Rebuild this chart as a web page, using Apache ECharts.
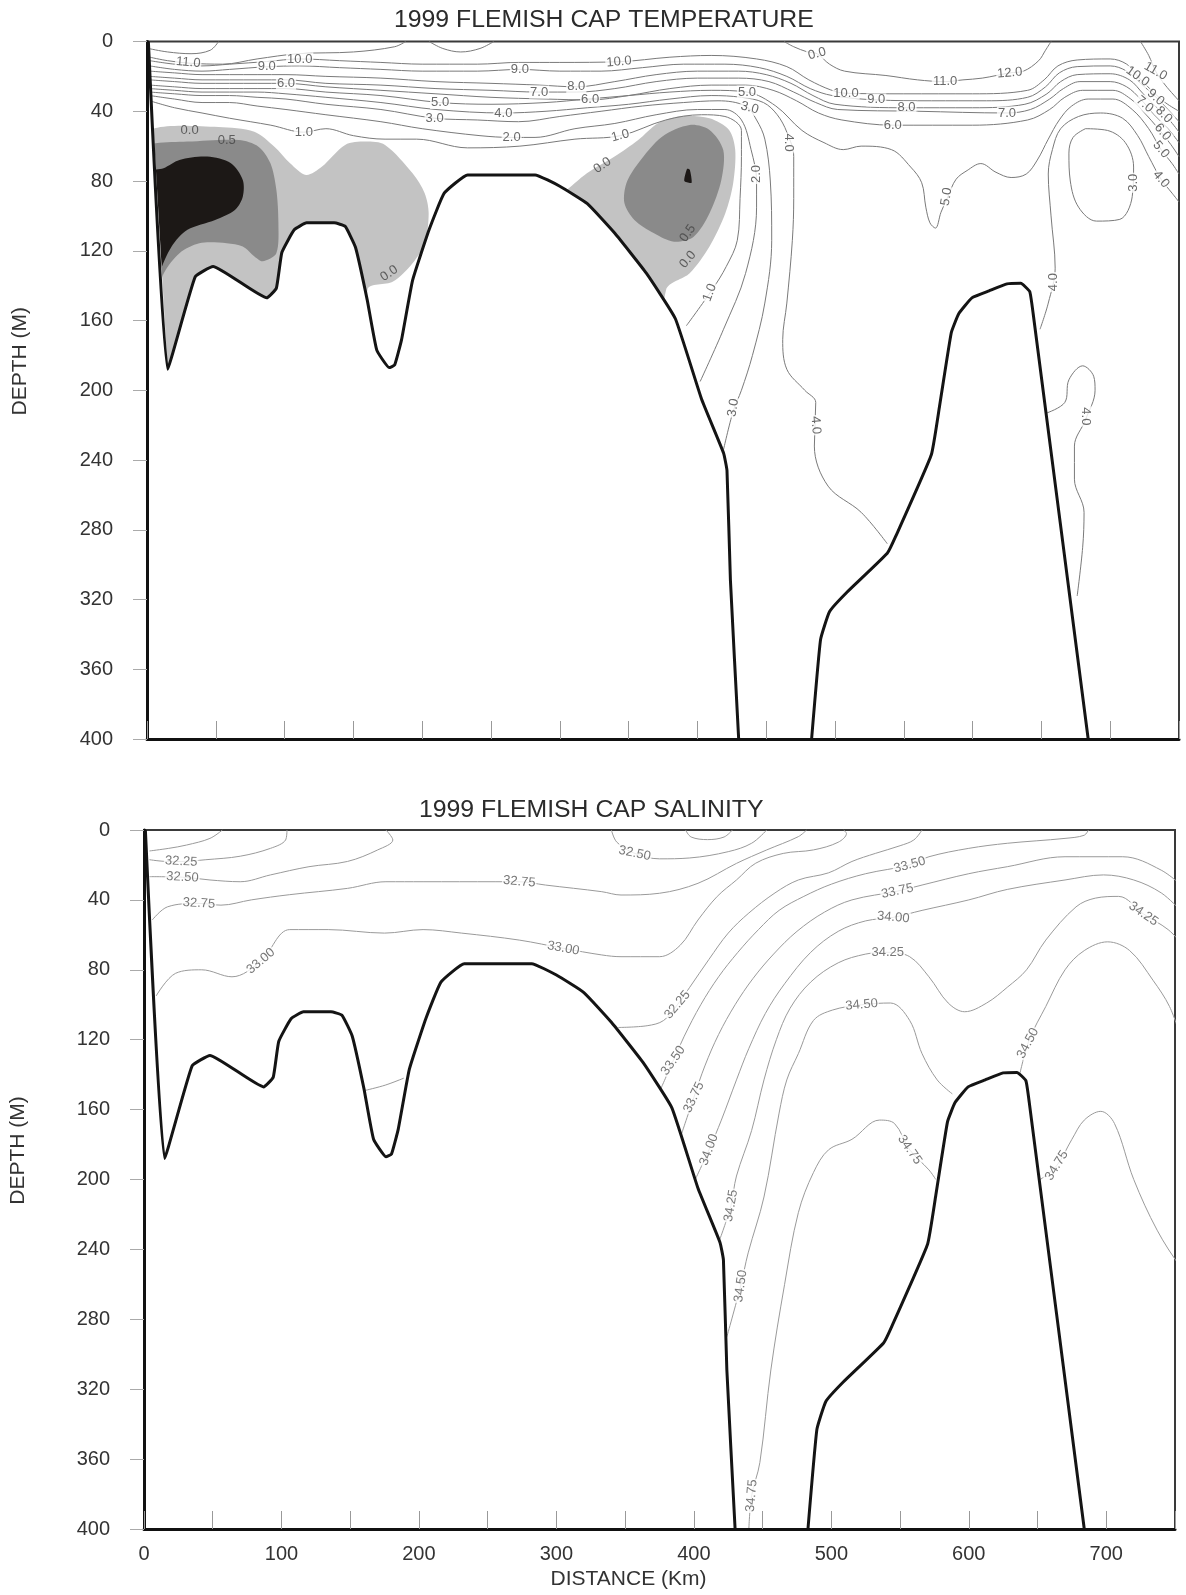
<!DOCTYPE html>
<html>
<head>
<meta charset="utf-8">
<title>1999 Flemish Cap sections</title>
<script src="https://cdn.jsdelivr.net/npm/echarts@6/dist/echarts.min.js"></script>
<style>
  html, body { margin: 0; padding: 0; background: #fff; }
  #chart { width: 1186px; height: 1595px; }
</style>
</head>
<body>
<div id="chart"></div>
<script>
// all points are [distance km, depth m]

// bottom profile
const bankWest = [[1,0],[15,188],[35,135],[48,129],[87,147],[94,141.5],[98,121],[107,108],[116,104],[136,104],[144,106],[151.5,118],[160,148],[167,177],[176,187],[180,185.5],[185,171],[193,137],[205,108],[216,87],[233,76.5],[282,76.5],[300,83],[320,93],[340,110],[363,133],[384,159],[403,205],[419,236],[421.5,246],[424,309],[430,400]];
const bankEast = [[483,400],[489.5,343],[496,327],[508.5,316],[538,293.5],[544,284],[570,237],[576,209],[584.5,167],[590,156],[599.5,147],[612,143],[625,139],[635,138.7],[641.5,143.4],[644,156],[684,400]];

// temperature: shaded cold cores
const coldWestLight = [[5.5,49.8],[52,49],[78,51.7],[92.6,60.3],[104,69.8],[115.6,76.5],[127,71.8],[144,59.3],[158.7,57.4],[173,59.3],[193,75.6],[201.8,87],[204.7,98.5],[201.8,115.7],[193,127.2],[178.8,137.7],[160.2,142.5],[160,250],[6,250],[2,60]];
const coldWestMid = [[6.4,58.4],[29.4,57.4],[66.8,56.5],[81,60.3],[89.7,69.8],[94,85],[95.5,104],[94,121.4],[84,126],[78.3,123.4],[69.6,117.6],[58,115.7],[38,115.7],[23.6,121.4],[12.2,132.9],[7.8,144.4],[3,144],[3,60]];
const coldWestDark = [[12,72.7],[23.6,67.9],[43.8,66],[61,69.8],[69.6,79.4],[69.6,89],[63.9,96.6],[49.5,102.3],[29.4,108],[17.9,117.6],[9.3,132.9],[7.8,144.4],[3,144],[3,75]];
const coldEastLight = [[302.4,87],[319.7,75.6],[339.8,66],[357,56.5],[371.4,46.9],[388.6,42.7],[408.8,44],[423,50.7],[427.5,62.2],[426,81.3],[420.3,98.5],[408.8,117.6],[394.4,132.9],[377.2,142.5],[360,250],[300,250],[300,88]];
const coldEastMid = [[348.4,81.3],[357,69.8],[374.3,54.6],[394.4,47.9],[408.8,50.7],[418.8,62.2],[417.4,79.4],[408.8,98.5],[397.3,111.9],[383,114.8],[368.5,110],[354.2,102.3],[347,92.8]];
const coldEastDark = [[390.5,80],[392.5,73],[394.5,73.5],[395.8,81]];

// temperature isotherms
const t12a = [[1,4],[15,6],[32,7],[46,5],[52,0]];
const t11a = [[2,9],[15,11],[32,12.5],[55,13],[80,10],[110,7],[150,6],[180,3],[188,0]];
const t11b = [[205,0],[215,4],[228,6],[242,4],[252,0]];
const t11c = [[463,0],[470,3],[480,6],[487,7],[496,13],[507,17],[537,19.5],[560,22],[580,23],[593,22],[607,21],[627,18],[637,17],[648,11],[653,5],[657,0]];
const t11d = [[722,0],[728,8],[733,17],[740,25],[750,34]];
const t10 = [[2,11],[20,13],[40,14],[60,13],[87,11.5],[111,10],[140,11],[170,12],[200,13],[240,13],[270,12],[300,12],[343,11.6],[380,9],[410,8],[443,10],[465,14.4],[481,22],[497,27.8],[508,29.7],[550,30],[600,30],[640,28],[652,22],[662,14],[676,10.6],[700,10],[712,13],[720,20],[730,28],[740,35],[750,40]];
const t9 = [[2,14],[20,16],[40,17],[60,16],[87,14.5],[111,14],[140,15],[170,16],[200,17],[240,17],[271,16],[300,17],[330,17],[360,15],[390,13],[420,13],[445,15],[465,20],[482,27],[498,31],[530,33.5],[570,34],[610,34],[640,32],[653,26],[663,18],[676,14.4],[700,14],[712,17],[722,24],[732,31],[742,39],[750,46]];
const t8 = [[2,17],[20,18],[40,19],[60,19],[80,19],[101,19],[130,20],[170,21],[210,23],[250,24],[285,25],[312,26],[340,23],[370,19],[400,17],[430,17],[450,19],[468,24],[484,31],[500,36],[552,38],[600,38],[638,36],[654,30],[664,23],[676,19],[700,18.5],[714,22],[724,30],[734,38],[743,45],[750,52]];
const t7 = [[2,20],[20,21],[40,22],[60,22],[80,22],[101,22],[130,24],[170,25],[210,27],[250,28],[285,29],[312,29],[340,27],[370,23],[400,21],[430,21],[452,23],[470,29],[486,35],[502,39],[560,40],[625,41],[642,39],[656,33],[666,27],[678,23],[700,23],[712,26],[722,33],[732,42],[742,50],[750,58]];
const t6 = [[2,22],[20,23],[40,24],[60,24],[80,24],[101,24],[130,26],[170,28],[210,30],[250,32],[290,33],[322,33.5],[350,31],[380,27],[410,25],[435,25],[455,28],[472,34],[488,41],[505,45],[542,48],[600,48],[640,45],[656,39],[667,32],[680,28],[702,28],[715,33],[725,41],[735,50],[744,59],[750,66]];
const t5 = [[2,25],[20,26],[40,27],[60,27],[80,27],[101,27],[130,29],[170,31],[213,35],[250,36],[290,35],[320,33],[350,31],[380,29],[410,28],[436,29],[457,37],[476,51],[492,58],[506,62],[519,60],[541,62],[555,72],[563,81],[566,95],[569,104],[573,107],[577,98],[582,89],[588,79],[596,74],[606,70],[617,75],[628,78],[639,76],[647,68],[655,56],[663,45],[672,37],[684,33],[702,33],[716,39],[728,50],[737,62],[745,70],[750,76]];
const t4a = [[2,27],[20,28],[40,29],[60,29],[80,29],[101,30],[130,32],[170,35],[210,39],[259,41],[290,40],[320,38],[350,36],[380,33],[410,31],[432,32],[448,35],[458,42],[465,52],[470,66],[470,90],[469,114],[465,150],[462,171],[465,188],[478,200],[486,207],[485,232],[495,255],[519,270],[538,288]];
const t4b = [[649,165],[655,150],[660,130],[657,100],[655,76],[658,62],[664,50],[677,43],[693,41],[709,44],[720,54],[728,66],[737,79],[745,87],[750,92]];
const t4c = [[654,213],[667,207],[670,194],[680,186],[688,192],[689,200],[682,217],[674,232],[674,251],[681,270],[680,290],[676,318]];
const t3a = [[2,29],[20,30],[40,31],[60,31],[80,32],[101,33],[130,36],[170,39],[209,44],[240,45],[270,46],[300,43],[330,40],[360,37],[390,35],[415,34],[435,37],[443,45],[449,56],[453,80],[454,114],[449,150],[440,180],[432,200],[426,212],[419,234]];
const t3b = [[682,50],[698,51],[711,58],[717,72],[716,89],[707,102],[690,103],[677,95],[671,80],[670,64],[673,55],[682,50]];
const t2 = [[2,31],[20,33],[40,35],[60,35],[80,37],[101,39],[130,42],[170,46],[200,50],[242,54],[265,55],[282,55],[311,50],[340,47],[370,42],[400,39],[420,39],[432,45],[439,62],[443,80],[443,95],[435,133],[419,165],[402,195]];
const t1 = [[2,34],[20,38],[40,41],[60,44],[90,48],[114,52],[130,50],[150,54],[173,56],[196,56],[233,61],[271,60],[311,56],[344,54],[377,45],[403,42],[420,43],[432,51],[432,66],[431,90],[429,114],[421,129],[411,142],[392,163]];

// temperature labels: text, km, depth, tilt
const tempTags = [
  ['11.0',30,12,-5],['9.0',87,14.5,0],['10.0',111,10,0],['6.0',101,24,0],['1.0',114,52,0],
  ['5.0',213,35,0],['3.0',209,44,0],['4.0',259,41,0],['2.0',265,55,0],['9.0',271,16,0],
  ['7.0',285,29,0],['8.0',312,26,0],['6.0',322,33.5,0],['10.0',343,11.6,5],['1.0',344,54,15],
  ['5.0',436,29,0],['3.0',438,38,-15],['4.0',466,58,-90],['2.0',443,76,90],['1.0',409,144,70],
  ['0.0',487,7,15],['10.0',508,29.5,0],['9.0',530,33.5,0],['8.0',552,38,0],['6.0',542,48,0],
  ['11.0',580,23,0],['12.0',627,18,5],['7.0',625,41,0],['5.0',581,89,80],
  ['3.0',717,81,90],['4.0',659,138,90],
  ['11.0',733,17,-30],['10.0',720,20,-35],['9.0',733,32,-40],['7.0',725,36,-40],['8.0',739,42,-45],
  ['6.0',738,52,-50],['5.0',737,62,-50],['4.0',737,79,-50],
  ['3.0',426,210,80],['4.0',486,220,-85],['4.0',682,215,-90]
];
const coldTags = [['0.0',31,51,0],['0.5',58,56.5,0],['0.0',176,133,35],['0.0',331,71,35],['0.5',393,110,55],['0.0',393,125,50]];

// salinity isohalines
const sA = [[4,12],[18,10.5],[31,8.6],[48,4.8],[57,0]];
const s3225 = [[4,17],[17,18],[27,18],[45,17],[70,15],[92,10.5],[103,5.7],[104,0]];
const s3250 = [[4,26.7],[28,27],[48,28.6],[70,29.6],[92,25.7],[120,21],[148,18],[170,11.4],[181,5.7],[176,0]];
const s3250b = [[340,0],[344,7],[357,13.4],[375,16.5],[397,16],[425,12.4],[442,7.6],[453,0]];
const s3225b = [[394,0],[398,4],[410,5.5],[422,4],[428,0]];
const s3275 = [[6,51.5],[17,44],[40,42],[56,43],[78,40],[106,37],[148,33.4],[176,29.6],[203,29.6],[256,29.6],[273,29.6],[292,31.5],[333,35.3],[347,37.2],[375,36.2],[403,30.5],[431,19.1],[453,11.4],[476,3.8],[482,0]];
const s3300 = [[8.8,95],[23,82],[42,80],[64,84],[85,75],[106,57],[134,57],[175,59],[203,57],[231,59],[273,63],[305,67.7],[333,71.5],[347,72.5],[375,72.5],[390,66],[403,51.5],[417,38],[431,28.6],[445,19],[465,13.4],[487,11.4],[505,7],[511,2],[509,0]];
const sTrough = [[161,149],[175.5,146],[189,142]];
const s3325 = [[345,113],[366,112],[378,109],[388,100],[397,90],[411,74],[425,59],[440,47.5],[459,36],[476,28.6],[498,24.5],[515,18],[532,13.4],[550,9],[560,5.7],[566,0]];
const s3350 = [[376,148],[385,132],[393,118],[405,100],[418,84],[432,70],[447,57],[462,46],[480,38],[500,31],[525,25],[557,20],[571,15.3],[600,10.5],[628,7.6],[670,4.8],[684,3],[687,0]];
const s3375 = [[391,174],[400,153],[408,135],[418,117],[430,100],[443,85],[458,71],[475,58],[495,47],[515,40],[548,35],[566,31.5],[600,25],[628,21],[670,15.3],[712,15.3],[740,23],[758,34]];
const s3400 = [[401,200],[411,183],[420,166],[431,143],[440,125],[452,105],[466,88],[485,70],[505,58],[525,52],[545,50],[566,46],[600,40],[628,34],[670,28.6],[698,25.7],[720,28.6],[740,36],[754,46]];
const s3425 = [[419,234],[423,225],[427,215],[431,198],[442,172],[451,143],[460,120],[470,102],[485,87],[505,76],[525,71],[541,70],[557,72.5],[571,84],[585,99],[597,104],[613,99],[628,90],[642,80],[656,63],[678,44],[692,39],[709,38],[727,48],[745,57],[756,66]];
const s3450a = [[424,290],[434,261],[439.5,242],[451,210],[462,162],[467.6,143],[476,128],[487,109],[501,103],[522,100],[543,99],[557,109],[566,128],[577,143],[588,151]];
const s3450b = [[637,140],[644,120],[656,101],[670,80],[684,69],[701,64],[717,69],[734,86],[746,101],[754,118]];
const s3475a = [[440,400],[442,381],[448,362],[456,309],[466,260],[476,219],[487,196],[498,183],[515,177],[535,166],[546,168],[557,183],[571,194.5],[576,200]];
const s3475b = [[652,200],[664,192],[675,177],[684,166],[696,161],[706,168],[720,200],[737,229],[754,250],[759,253]];

const salTags = [
  ['32.25',27,18,-3],['32.50',28,27,-3],['32.75',40,42,-3],['33.00',85,75,40],
  ['32.75',273,29.6,-5],['33.00',305,67.7,-10],['32.50',357,13.4,-12],
  ['33.50',557,20,15],['33.75',548,35,12],['34.00',545,50,-5],['34.25',541,70,0],
  ['34.25',727,48,-35],['34.50',522,100,5],['34.50',643,122,62],
  ['32.25',388,100,50],['33.50',385,132,55],['33.75',400,153,65],['34.00',411,183,70],
  ['34.25',427,215,80],['34.50',434,261,82],['34.75',442,381,85],
  ['34.75',557,183,-55],['34.75',664,192,58]
];

const FONT = '"Liberation Sans", Arial, sans-serif';
const chart = echarts.init(document.getElementById('chart'));

function isoline(panel, pts, color) {
  return {
    type: 'line', xAxisIndex: panel, yAxisIndex: panel, data: pts,
    smooth: 0.35, symbol: 'none', silent: true, z: 2,
    lineStyle: { color: color, width: 1 }
  };
}

function patch(panel, pts, fill, z, smooth) {
  return {
    type: 'custom', xAxisIndex: panel, yAxisIndex: panel, data: pts,
    clip: true, silent: true, z: z,
    renderItem: function (params, api) {
      if (params.dataIndex !== 0) return null;
      return {
        type: 'polygon',
        shape: { points: pts.map(function (p) { return api.coord(p); }), smooth: smooth || 0 },
        style: { fill: fill }
      };
    }
  };
}

function bottomLine(panel, pts) {
  return {
    type: 'line', xAxisIndex: panel, yAxisIndex: panel, data: pts,
    smooth: 0.12, symbol: 'none', silent: true, z: 4,
    lineStyle: { color: '#141414', width: 3 }
  };
}

function tags(panel, list, withBg, color, size) {
  return {
    type: 'scatter', xAxisIndex: panel, yAxisIndex: panel, symbolSize: 1,
    itemStyle: { color: 'rgba(0,0,0,0)' }, silent: true, z: 5,
    data: list.map(function (l) { return { name: l[0], value: [l[1], l[2]], label: { rotate: l[3] } }; }),
    label: {
      show: true, position: 'inside', formatter: '{b}', fontSize: size, color: color,
      fontFamily: FONT, backgroundColor: withBg ? '#fff' : 'transparent', padding: [0, 1]
    }
  };
}

function xAxisFor(panel, showLabels) {
  return {
    type: 'value', gridIndex: panel, min: 0, max: 750, interval: 50, z: 10,
    axisLine: { show: true, onZero: false, lineStyle: { color: '#111', width: 3 } },
    axisTick: { show: true, inside: true, length: 18, lineStyle: { color: '#999', width: 1 } },
    axisLabel: {
      show: showLabels, fontSize: 20, color: '#333', margin: 15, fontFamily: FONT,
      formatter: function (v) { return (v % 100 === 0 && v <= 700) ? String(v) : ''; }
    },
    splitLine: { show: false },
    name: showLabels ? 'DISTANCE (Km)' : '',
    nameLocation: 'middle', nameGap: 40,
    nameTextStyle: { fontSize: 21, color: '#333', fontFamily: FONT, padding: [0, 62, 0, 0] }
  };
}

function yAxisFor(panel, gap) {
  return {
    type: 'value', gridIndex: panel, inverse: true, min: 0, max: 400, interval: 40, z: 10,
    axisLine: { show: true, onZero: false, lineStyle: { color: '#111', width: 3 } },
    axisTick: { show: true, length: 14, lineStyle: { color: '#aaa', width: 1 } },
    axisLabel: { fontSize: 20, color: '#333', margin: 34, fontFamily: FONT },
    splitLine: { show: false },
    name: 'DEPTH (M)', nameLocation: 'middle', nameRotate: 90, nameGap: gap,
    nameTextStyle: { fontSize: 21, color: '#333', fontFamily: FONT, padding: [0, 0, 0, 58] }
  };
}

const tempLines = [t12a, t11a, t11b, t11c, t11d, t10, t9, t8, t7, t6, t5, t4a, t4b, t4c, t3a, t3b, t2, t1];
const salLines = [sA, s3225, s3250, s3250b, s3225b, s3275, s3300, sTrough, s3325, s3350, s3375, s3400, s3425, s3450a, s3450b, s3475a, s3475b];

const series = [];
// temperature panel
series.push(patch(0, coldWestLight, '#c3c3c3', 1, 0.3));
series.push(patch(0, coldEastLight, '#c3c3c3', 1, 0.3));
series.push(patch(0, coldWestMid, '#8a8a8a', 1, 0.3));
series.push(patch(0, coldEastMid, '#8a8a8a', 1, 0.3));
series.push(patch(0, coldWestDark, '#1c1816', 1, 0.3));
series.push(patch(0, coldEastDark, '#1c1816', 1, 0.2));
tempLines.forEach(function (l) { series.push(isoline(0, l, '#7a7a7a')); });
series.push(patch(0, bankWest.concat([[0, 400]]), '#fff', 3, 0));
series.push(patch(0, bankEast, '#fff', 3, 0));
series.push(bottomLine(0, bankWest));
series.push(bottomLine(0, bankEast));
series.push(tags(0, tempTags, true, '#444', 13));
series.push(tags(0, coldTags, false, '#444', 13));
// salinity panel
salLines.forEach(function (l) { series.push(isoline(1, l, '#9a9a9a')); });
series.push(patch(1, bankWest.concat([[0, 400]]), '#fff', 3, 0));
series.push(patch(1, bankEast, '#fff', 3, 0));
series.push(bottomLine(1, bankWest));
series.push(bottomLine(1, bankEast));
series.push(tags(1, salTags, true, '#555', 13));

chart.setOption({
  animation: false,
  backgroundColor: '#fff',
  textStyle: { fontFamily: FONT },
  title: [
    { text: '1999 FLEMISH CAP TEMPERATURE', left: 394, top: 8, padding: 0,
      textStyle: { fontSize: 24.8, fontWeight: 'normal', color: '#2b2b2b', fontFamily: FONT } },
    { text: '1999 FLEMISH CAP SALINITY', left: 419, top: 798, padding: 0,
      textStyle: { fontSize: 24.8, fontWeight: 'normal', color: '#2b2b2b', fontFamily: FONT } }
  ],
  grid: [
    { left: 147, top: 41.5, width: 1032, height: 697.5, show: true, borderColor: '#3a3a3a', borderWidth: 2, backgroundColor: 'transparent' },
    { left: 141, top: 830, width: 1034, height: 699, show: true, borderColor: '#3a3a3a', borderWidth: 2, backgroundColor: 'transparent' }
  ],
  xAxis: [xAxisFor(0, false), xAxisFor(1, true)],
  yAxis: [yAxisFor(0, 116), yAxisFor(1, 115)],
  series: series
});
</script>
</body>
</html>
